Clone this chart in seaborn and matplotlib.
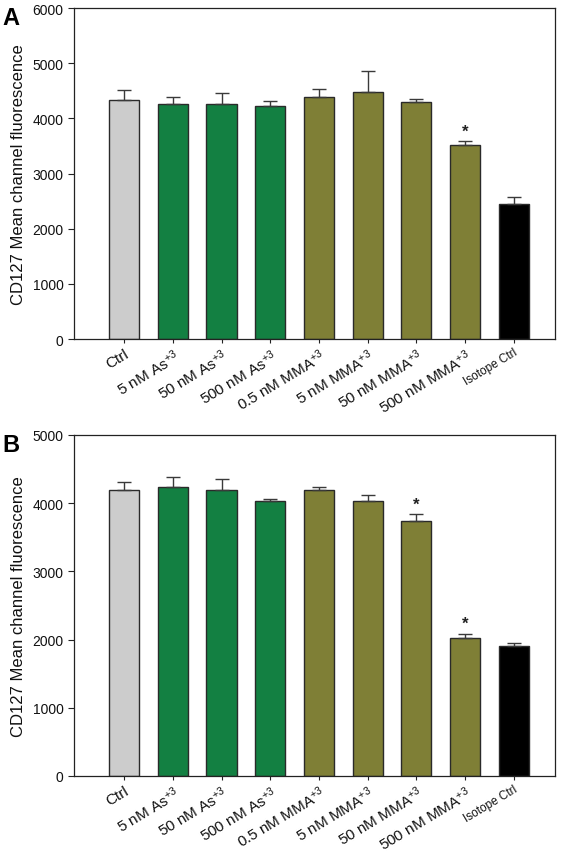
import numpy as np
import pandas as pd
import matplotlib
matplotlib.use('Agg')
import matplotlib.pyplot as plt
import seaborn as sns

sns.set_theme(style='ticks')
plt.rcParams['font.family'] = ['Liberation Sans', 'DejaVu Sans']
plt.rcParams['mathtext.fontset'] = 'custom'
plt.rcParams['mathtext.rm'] = 'Liberation Sans'
plt.rcParams['mathtext.it'] = 'Liberation Sans'
plt.rcParams['text.color'] = '#111111'
plt.rcParams['axes.labelcolor'] = '#111111'
plt.rcParams['xtick.color'] = '#222222'
plt.rcParams['ytick.color'] = '#222222'
plt.rcParams['xtick.labelcolor'] = '#111111'
plt.rcParams['ytick.labelcolor'] = '#111111'

# categories and values
groups = ['Ctrl', '5 nM As$^{+3}$', '50 nM As$^{+3}$', '500 nM As$^{+3}$',
          '0.5 nM MMA$^{+3}$', '5 nM MMA$^{+3}$', '50 nM MMA$^{+3}$',
          '500 nM MMA$^{+3}$', 'Isotope Ctrl']
mean_a = [4340, 4265, 4265, 4225, 4390, 4480, 4295, 3510, 2440]
err_a = [170, 115, 200, 85, 145, 370, 55, 85, 135]
mean_b = [4200, 4235, 4200, 4030, 4195, 4035, 3735, 2025, 1905]
err_b = [117, 155, 150, 30, 45, 80, 100, 60, 45]
star_a = [7]
star_b = [6, 7]

colors = ['#cccccc', '#138042', '#138042', '#138042',
          '#7f7f36', '#7f7f36', '#7f7f36', '#7f7f36', '#000000']

fig = plt.figure(figsize=(5.67, 8.53), dpi=100)
ax_a = fig.add_axes([0.1305, 0.6014, 0.8485, 0.388])
ax_b = fig.add_axes([0.1305, 0.0891, 0.8485, 0.3998])


def draw_panel(ax, means, errs, stars, ymax, step, letter):
    df = pd.DataFrame({'group': groups, 'value': means})
    sns.barplot(data=df, x='group', y='value', hue='group', palette=colors,
                legend=False, width=0.62, edgecolor='#2a2a2a', linewidth=1.0,
                saturation=1, ax=ax, errorbar=None)
    xs = np.arange(len(groups))
    ax.errorbar(xs, means, yerr=[np.zeros(len(errs)), errs], fmt='none',
                ecolor='#3a3a3a', elinewidth=1.0, capsize=5, capthick=1.0)
    for i in stars:
        ax.text(i, means[i] + errs[i] + ymax * 0.03, '*', ha='center',
                va='center', fontsize=12, fontweight='bold', color='#222222')
    ax.set_xlim(-1.03, 8.85)
    ax.set_ylim(0, ymax)
    ax.set_yticks(np.arange(0, ymax + 1, step))
    ax.set_xlabel('')
    ax.set_ylabel('CD127 Mean channel fluorescence', fontsize=12, labelpad=5)
    ax.tick_params(axis='y', labelsize=10, length=4, width=0.8, direction='out')
    ax.tick_params(axis='x', length=3, width=0.8, direction='out', pad=2)
    ax.set_xticks(xs)
    ax.set_xticklabels(groups, rotation=31, ha='right', rotation_mode='anchor',
                       fontsize=11)
    ax.get_xticklabels()[-1].set_fontsize(8.5)
    for s in ax.spines.values():
        s.set_visible(True)
        s.set_linewidth(0.9)
        s.set_color('#222222')
    fig.text(0.005, ax.get_position().y1 + 0.002, letter, fontsize=17,
             fontweight='bold', va='top', ha='left', color='black')


draw_panel(ax_a, mean_a, err_a, star_a, 6000, 1000, 'A')
draw_panel(ax_b, mean_b, err_b, star_b, 5000, 1000, 'B')

fig.savefig('out.png', dpi=100)
